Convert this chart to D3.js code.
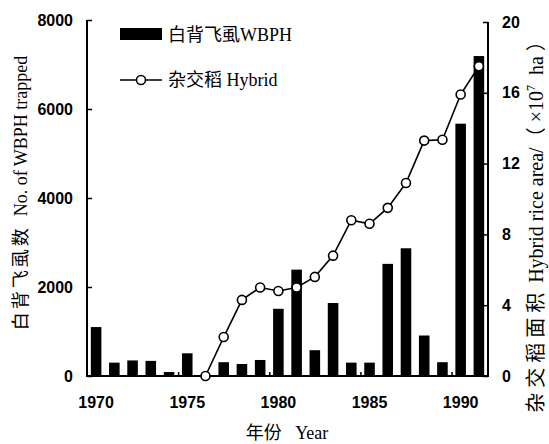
<!DOCTYPE html>
<html>
<head>
<meta charset="utf-8">
<script src="https://cdn.jsdelivr.net/npm/d3@7"></script>
<style>
    body { margin: 0; background: #fff; }
    svg { display: block; }
</style>
</head>
<body>
<svg id="chart" width="549" height="444"></svg>
<script>
// 年份
let years = [1970, 1971, 1972, 1973, 1974, 1975, 1976, 1977, 1978, 1979, 1980,
    1981, 1982, 1983, 1984, 1985, 1986, 1987, 1988, 1989, 1990, 1991];
// 白背飞虱 诱虫数 (柱)
let wbph = [1100, 300, 350, 340, 90, 510, 0, 310, 270, 360, 1510,
    2390, 580, 1640, 300, 300, 2520, 2870, 910, 310, 5670, 7190];
// 杂交稻面积 (x10^7 ha), 1976 年开始
let hybridYears = [1976, 1977, 1978, 1979, 1980, 1981, 1982, 1983, 1984, 1985,
    1986, 1987, 1988, 1989, 1990, 1991];
let hybrid = [0, 2.2, 4.3, 5.0, 4.8, 5.0, 5.6, 6.8, 8.8, 8.6, 9.5, 10.9, 13.3, 13.35, 15.9, 17.5];
// 刻度
let leftTicks = [0, 2000, 4000, 6000, 8000];
let rightTicks = [0, 4, 8, 12, 16, 20];
let yearLabels = [1970, 1975, 1980, 1985, 1990];

let svg = d3.select('#chart');
let serif = '"Liberation Serif", "Times New Roman", "Noto Sans CJK SC", serif',
    sans = '"Liberation Sans", Arial, sans-serif';

// 绘图区边界
let x0 = 87, x1 = 488, y0 = 376, y1 = 20;

// 比例尺
let x = d3.scaleBand()
    .domain(years)
    .range([x0, x1])
    .paddingInner(0.42)
    .paddingOuter(0.21);
let xl = d3.scaleLinear().domain([1970, 1992]).range([x0, x1]);
let yL = d3.scaleLinear().domain([0, 8000]).range([y0, y1]);
let yR = d3.scaleLinear().domain([0, 20]).range([y0, 22]);

// 柱子
svg.append('g')
    .selectAll('rect')
    .data(years)
    .enter()
    .append('rect')
    .attr('x', d => x(d))
    .attr('y', (d, i) => yL(wbph[i]))
    .attr('width', x.bandwidth())
    .attr('height', (d, i) => yL(0) - yL(wbph[i]))
    .attr('fill', '#000');

// 左轴
let axisL = svg.append('g')
    .attr('transform', 'translate(' + x0 + ',0)')
    .call(d3.axisLeft(yL).tickValues(leftTicks).tickSize(-5).tickPadding(14).tickFormat(d3.format('d')));
// 右轴
let axisR = svg.append('g')
    .attr('transform', 'translate(' + x1 + ',0)')
    .call(d3.axisRight(yR).tickValues(rightTicks).tickSize(-5).tickPadding(14));
// 底轴 (只要文字)
let axisB = svg.append('g')
    .attr('transform', 'translate(0,' + y0 + ')')
    .call(d3.axisBottom(x).tickValues(yearLabels).tickSize(0).tickPadding(21));
// 底轴上的小刻度
let axisB2 = svg.append('g')
    .attr('transform', 'translate(0,' + y0 + ')')
    .call(d3.axisBottom(xl).tickValues([1975, 1980, 1985, 1990]).tickSize(-4).tickFormat(''));

[axisL, axisR, axisB, axisB2].forEach(function (g) {
    g.select('.domain').remove();
    g.selectAll('line').attr('stroke', '#000').attr('stroke-width', 1.5);
    g.selectAll('text')
        .attr('font-family', sans)
        .attr('font-weight', 'bold')
        .attr('font-size', 16)
        .attr('fill', '#000');
});

// 框线: 左 右 底
svg.append('path')
    .attr('d', d3.line()([[x0, y1], [x0, y0], [x1, y0], [x1, 22]]))
    .attr('fill', 'none')
    .attr('stroke', '#000')
    .attr('stroke-width', 2);

// 折线
let pts = hybridYears.map((d, i) => [x(d) + x.bandwidth() / 2, yR(hybrid[i])]);
svg.append('path')
    .attr('d', d3.line()(pts))
    .attr('fill', 'none')
    .attr('stroke', '#000')
    .attr('stroke-width', 1.6);
svg.append('g')
    .selectAll('circle')
    .data(pts)
    .enter()
    .append('circle')
    .attr('cx', d => d[0])
    .attr('cy', d => d[1])
    .attr('r', 4.5)
    .attr('fill', '#fff')
    .attr('stroke', '#000')
    .attr('stroke-width', 1.6);

// 图例
let lg = svg.append('g').attr('font-family', serif).attr('font-size', 18);
lg.append('rect').attr('x', 120).attr('y', 28).attr('width', 42).attr('height', 12).attr('fill', '#000');
lg.append('text').attr('x', 168).attr('y', 41).text('白背飞虱WBPH');
lg.append('line').attr('x1', 120).attr('x2', 162).attr('y1', 80).attr('y2', 80)
    .attr('stroke', '#000').attr('stroke-width', 1.6);
lg.append('circle').attr('cx', 141).attr('cy', 80).attr('r', 4.5)
    .attr('fill', '#fff').attr('stroke', '#000').attr('stroke-width', 1.6);
lg.append('text').attr('x', 168).attr('y', 86).text('杂交稻 Hybrid');

// 轴标题
svg.append('text')
    .attr('x', 287).attr('y', 439)
    .attr('text-anchor', 'middle')
    .attr('font-family', serif).attr('font-size', 18)
    .text('年份\u00a0\u00a0 Year');

let tL = svg.append('text')
    .attr('transform', 'translate(27,193) rotate(-90)')
    .attr('text-anchor', 'middle')
    .attr('font-family', serif).attr('font-size', 18);
tL.append('tspan').attr('letter-spacing', 3).text('白背飞虱数');
tL.append('tspan').text('\u00a0\u00a0No. of WBPH trapped');

let tR = svg.append('text')
    .attr('transform', 'translate(543,222) rotate(-90)')
    .attr('text-anchor', 'middle')
    .attr('font-family', serif).attr('font-size', 20);
tR.append('tspan').attr('letter-spacing', 5).text('杂交稻面积');
tR.append('tspan').text(' Hybrid rice area/（ ×10');
tR.append('tspan').attr('font-size', 12).attr('dy', -8).text('7');
tR.append('tspan').attr('dy', 8).text('\u00a0 ha ）');
</script>
</body>
</html>
